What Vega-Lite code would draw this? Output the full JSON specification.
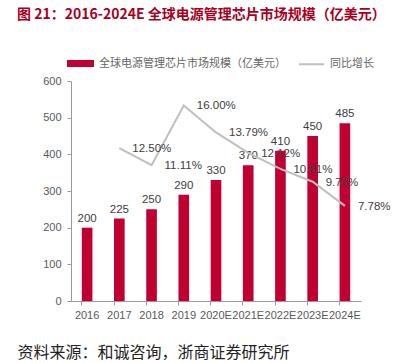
{
  "$schema": "https://vega.github.io/schema/vega-lite/v6.json",
  "width": 290,
  "height": 220,
  "autosize": {"type": "none"},
  "padding": {"left": 71, "top": 81, "right": 58, "bottom": 62},
  "background": "white",
  "title": {
    "text": "图 21：2016-2024E 全球电源管理芯片市场规模（亿美元）",
    "anchor": "start",
    "frame": "group",
    "dx": -54,
    "offset": 28,
    "font": "Noto Sans CJK SC",
    "fontSize": 14,
    "fontWeight": "bold",
    "color": "#A8001E"
  },
  "data": {
    "values": [
      {"year": "2016", "size": 200, "growth": null},
      {"year": "2017", "size": 225, "growth": 0.125},
      {"year": "2018", "size": 250, "growth": 0.1111},
      {"year": "2019", "size": 290, "growth": 0.16},
      {"year": "2020E", "size": 330, "growth": 0.1379},
      {"year": "2021E", "size": 370, "growth": 0.1212},
      {"year": "2022E", "size": 410, "growth": 0.1081},
      {"year": "2023E", "size": 450, "growth": 0.0976},
      {"year": "2024E", "size": 485, "growth": 0.0778}
    ]
  },
  "encoding": {
    "x": {
      "field": "year",
      "type": "ordinal",
      "sort": null,
      "scale": {"paddingInner": 0.67, "paddingOuter": 0.335},
      "axis": {
        "title": "资料来源：和诚咨询，浙商证券研究所",
        "titleFont": "Noto Sans CJK SC",
        "titleFontWeight": "normal",
        "titleFontSize": 16,
        "titleColor": "#222222",
        "titleAnchor": "start",
        "titleAlign": "left",
        "titleBaseline": "middle",
        "titleX": -54,
        "titleY": 51,
        "labelAngle": 0,
        "labelFont": "Liberation Sans",
        "labelFontSize": 11,
        "labelColor": "#595959",
        "labelPadding": 4,
        "domainColor": "#999999",
        "tickColor": "#999999",
        "tickSize": 4,
        "bandPosition": 0,
        "grid": false
      }
    }
  },
  "layer": [
    {
      "mark": {"type": "bar", "color": "#C00030"},
      "encoding": {
        "y": {
          "field": "size",
          "type": "quantitative",
          "scale": {"domain": [0, 600]},
          "axis": {
            "title": null,
            "values": [0, 100, 200, 300, 400, 500, 600],
            "grid": false,
            "labelFont": "Liberation Sans",
            "labelFontSize": 11,
            "labelColor": "#595959",
            "labelPadding": 6,
            "domainColor": "#999999",
            "tickColor": "#999999",
            "tickSize": 4
          }
        },
        "color": {
          "datum": "全球电源管理芯片市场规模（亿美元）",
          "type": "nominal",
          "scale": {
            "domain": ["全球电源管理芯片市场规模（亿美元）", "同比增长"],
            "range": ["#C00030", "#BFBFBF"]
          },
          "legend": {
            "title": null,
            "orient": "none",
            "legendX": -4,
            "legendY": -31,
            "direction": "horizontal",
            "columns": 2,
            "columnPadding": 9,
            "symbolSize": 625,
            "labelOffset": 5,
            "labelFont": "Noto Sans CJK SC",
            "labelFontSize": 11,
            "labelColor": "#666666",
            "labelLimit": 300,
            "encode": {
              "symbols": {
                "update": {
                  "shape": {"signal": "datum.value === '同比增长' ? 'M-1,0H1' : 'M-1,-0.2H1V0.2H-1Z'"},
                  "fill": {"signal": "datum.value === '同比增长' ? 'transparent' : '#C00030'"},
                  "stroke": {"signal": "datum.value === '同比增长' ? '#BFBFBF' : 'transparent'"},
                  "strokeWidth": {"value": 2}
                }
              }
            }
          }
        }
      }
    },
    {
      "mark": {"type": "text", "dy": -9, "font": "Liberation Sans", "fontSize": 11.5, "color": "#404040"},
      "encoding": {
        "y": {"field": "size", "type": "quantitative", "scale": {"domain": [0, 600]}, "axis": null},
        "text": {"field": "size", "type": "quantitative"}
      }
    },
    {
      "transform": [{"filter": "datum.growth != null"}],
      "layer": [
        {
          "mark": {"type": "line", "strokeWidth": 2},
          "encoding": {
            "y": {
              "field": "growth",
              "type": "quantitative",
              "scale": {"domain": [0, 0.18]},
              "axis": {
                "orient": "right",
                "title": null,
                "values": [0, 0.02, 0.04, 0.06, 0.08, 0.1, 0.12, 0.14, 0.16, 0.18],
                "format": "~g",
                "grid": false,
                "labelFont": "Liberation Sans",
                "labelFontSize": 11,
                "labelColor": "#595959",
                "labelPadding": 5,
                "domainColor": "#999999",
                "tickColor": "#999999",
                "tickSize": 4
              }
            },
            "color": {"datum": "同比增长", "type": "nominal"}
          }
        },
        {
          "mark": {"type": "text", "align": "left", "dx": 13, "dy": 1, "font": "Liberation Sans", "fontSize": 11.5, "color": "#404040"},
          "encoding": {
            "y": {"field": "growth", "type": "quantitative", "scale": {"domain": [0, 0.18]}, "axis": null},
            "text": {"field": "growth", "type": "quantitative", "format": ".2%"}
          }
        }
      ]
    }
  ],
  "resolve": {"scale": {"y": "independent"}},
  "config": {"view": {"stroke": null}}
}
